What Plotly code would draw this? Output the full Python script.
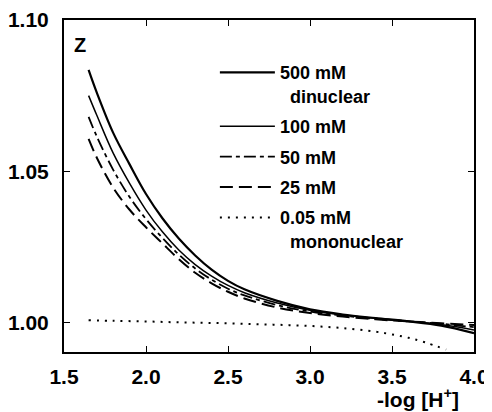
import plotly.graph_objects as go

# ---- data ----
x_vals = [1.65, 1.70, 1.80, 1.90, 2.00, 2.10, 2.20, 2.30, 2.40, 2.50, 2.60, 2.80,
          3.00, 3.20, 3.40, 3.60, 3.80, 4.00]
z_500 = [1.0835, 1.0760, 1.0627, 1.0523, 1.0425, 1.0345, 1.0278, 1.0222, 1.0175,
         1.0138, 1.0110, 1.0072, 1.0044, 1.0027, 1.0015, 1.0004, 0.9990, 0.9965]
z_100 = [1.0750, 1.0685, 1.0560, 1.0460, 1.0372, 1.0300, 1.0240, 1.0192, 1.0154,
         1.0123, 1.0099, 1.0065, 1.0041, 1.0025, 1.0014, 1.0005, 0.9994, 0.9976]
z_50 = [1.0680, 1.0615, 1.0505, 1.0415, 1.0342, 1.0280, 1.0225, 1.0179, 1.0142,
        1.0112, 1.0090, 1.0058, 1.0037, 1.0023, 1.0013, 1.0004, 0.9996, 0.9985]
z_25 = [1.0607, 1.0545, 1.0446, 1.0373, 1.0315, 1.0262, 1.0210, 1.0165, 1.0130,
        1.0102, 1.0080, 1.0050, 1.0032, 1.0020, 1.0011, 1.0004, 0.9998, 0.9992]
x_mono = [1.65, 1.80, 2.00, 2.20, 2.40, 2.60, 2.80, 3.00, 3.20, 3.40, 3.50, 3.60, 3.70, 3.83]
z_mono = [1.0008, 1.0006, 1.0004, 1.0001, 0.9999, 0.9996, 0.9993, 0.9989, 0.9982,
          0.9970, 0.9961, 0.9950, 0.9935, 0.9911]

names = ["500 mM<br>&nbsp;&nbsp;dinuclear", "100 mM", "50 mM", "25 mM",
         "0.05 mM<br>&nbsp;&nbsp;mononuclear"]
x_ticks = [1.5, 2.0, 2.5, 3.0, 3.5, 4.0]
x_tick_text = ["1.5", "2.0", "2.5", "3.0", "3.5", "4.0"]
y_ticks = [1.00, 1.05, 1.10]
y_tick_text = ["1.00", "1.05", "1.10"]

FONT = "Liberation Sans, Arial, sans-serif"

series = [
    (x_vals, z_500, names[0], dict(color="black", width=2.2, dash="solid")),
    (x_vals, z_100, names[1], dict(color="black", width=1.5, dash="solid")),
    (x_vals, z_50, names[2], dict(color="black", width=1.8, dash="12px,4px,4px,4px")),
    (x_vals, z_25, names[3], dict(color="black", width=2.0, dash="13px,6px")),
    (x_mono, z_mono, names[4], dict(color="black", width=2.0, dash="2px,6px")),
]

fig = go.Figure()
for i, (xs, ys, nm, ln) in enumerate(series):
    fig.add_trace(go.Scatter(x=xs, y=ys, mode="lines", name=nm, line=ln,
                             line_shape="spline", legendgroup=f"g{i}"))

axis_common = dict(ticks="inside", ticklen=6, tickwidth=1.2, tickcolor="black",
                   showline=True, linecolor="black", linewidth=2, mirror="ticks",
                   showgrid=False, zeroline=False, automargin=False,
                   tickfont=dict(family=FONT, size=21, color="black", weight="bold"))

fig.update_layout(
    width=484, height=404,
    margin=dict(l=56, r=18, t=12, b=60),
    paper_bgcolor="white", plot_bgcolor="white",
    font=dict(family=FONT, color="black"),
    showlegend=True,
    legend=dict(x=0.368, y=0.897, xanchor="left", yanchor="top",
                bgcolor="rgba(0,0,0,0)", borderwidth=0,
                font=dict(family=FONT, size=18, color="black", weight="bold"),
                tracegroupgap=4, valign="top", itemwidth=55),
    xaxis=dict(range=[1.5, 4.0], tickvals=x_ticks, ticktext=x_tick_text,
               ticklabelstandoff=5, **axis_common),
    yaxis=dict(range=[0.9903, 1.10], tickvals=y_ticks, ticktext=y_tick_text,
               ticklabelstandoff=9, **axis_common),
    annotations=[
        dict(text="-log [H<sup>+</sup>]", xref="paper", yref="paper", x=0.968, y=-0.138,
             xanchor="right", yanchor="middle", showarrow=False,
             font=dict(family=FONT, size=21, color="black", weight="bold")),
        dict(text="Z", xref="paper", yref="paper", x=0.02, y=0.925,
             xanchor="left", yanchor="middle", showarrow=False,
             font=dict(family=FONT, size=20, color="black", weight="bold")),
    ],
)

fig.write_html("out.html")
